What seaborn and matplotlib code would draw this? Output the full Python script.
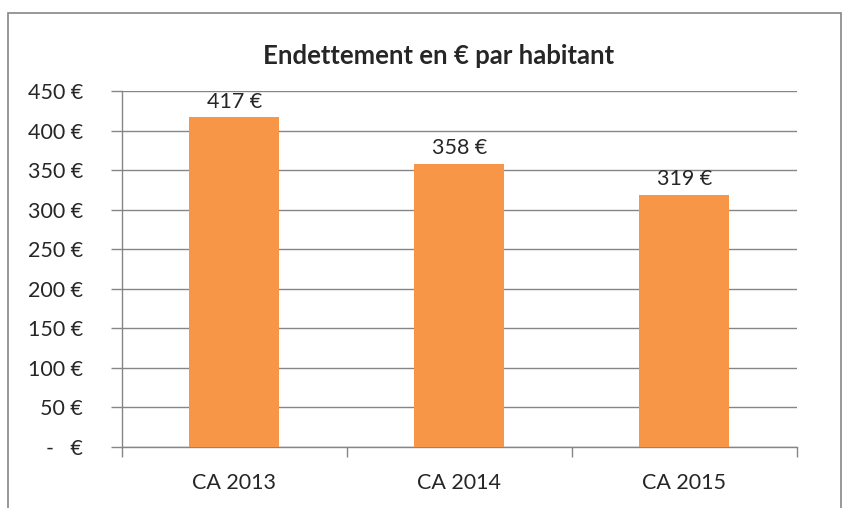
import matplotlib
matplotlib.use("Agg")
import matplotlib.pyplot as plt
import seaborn as sns
import pandas as pd
from matplotlib.patches import Rectangle
from matplotlib.ticker import FixedLocator

# données
annees = ["CA 2013", "CA 2014", "CA 2015"]
endettement = [417, 358, 319]
graduations = [0, 50, 100, 150, 200, 250, 300, 350, 400, 450]
libelles_y = ["-   €", "50 €", "100 €", "150 €", "200 €", "250 €", "300 €", "350 €", "400 €", "450 €"]

sns.set_theme(style="white")
plt.rcParams['font.family'] = ['Lato', 'DejaVu Sans']

ORANGE = "#F79646"
GRIS = "#868686"

df = pd.DataFrame({"annee": annees, "valeur": endettement})

fig = plt.figure(figsize=(8.43, 5.08), dpi=100)
ax = fig.add_axes([0.1447, 0.120, 0.8007, 0.7009])

sns.barplot(data=df, x="annee", y="valeur", color=ORANGE, saturation=1,
            width=0.4, linewidth=0, ax=ax, zorder=3)

ax.set_xlim(-0.5, 2.5)
ax.set_ylim(0, 450)
ax.set_yticks(graduations)
ax.set_yticklabels(libelles_y, fontsize=15.5)
ax.set_xlabel("")
ax.set_ylabel("")
ax.tick_params(axis="x", length=0, labelsize=15.5, pad=19)
ax.tick_params(axis="y", length=8, color=GRIS, width=1, pad=20, direction="out", left=True)

# graduations entre les catégories
ax.xaxis.set_minor_locator(FixedLocator([-0.5, 0.5, 1.5, 2.5]))
ax.tick_params(axis="x", which="minor", length=7, color=GRIS, width=1, bottom=True)

ax.grid(axis="y", color=GRIS, linewidth=1, zorder=0)
ax.set_axisbelow(True)
for s in ["top", "right"]:
    ax.spines[s].set_visible(False)
for s in ["left", "bottom"]:
    ax.spines[s].set_color(GRIS)
    ax.spines[s].set_linewidth(1)

for i, v in enumerate(endettement):
    ax.text(i, v + 7, f"{v} €", ha="center", va="bottom", fontsize=15.5)

fig.text(0.52, 0.889, "Endettement en € par habitant", ha="center", va="center",
         fontsize=18.5, fontweight="bold")

# cadre du graphique
fig.patches.append(Rectangle((0.009, -0.1), 0.989, 1.075, transform=fig.transFigure,
                             fill=False, edgecolor=GRIS, linewidth=1.2))

fig.savefig("out.png", dpi=100)
